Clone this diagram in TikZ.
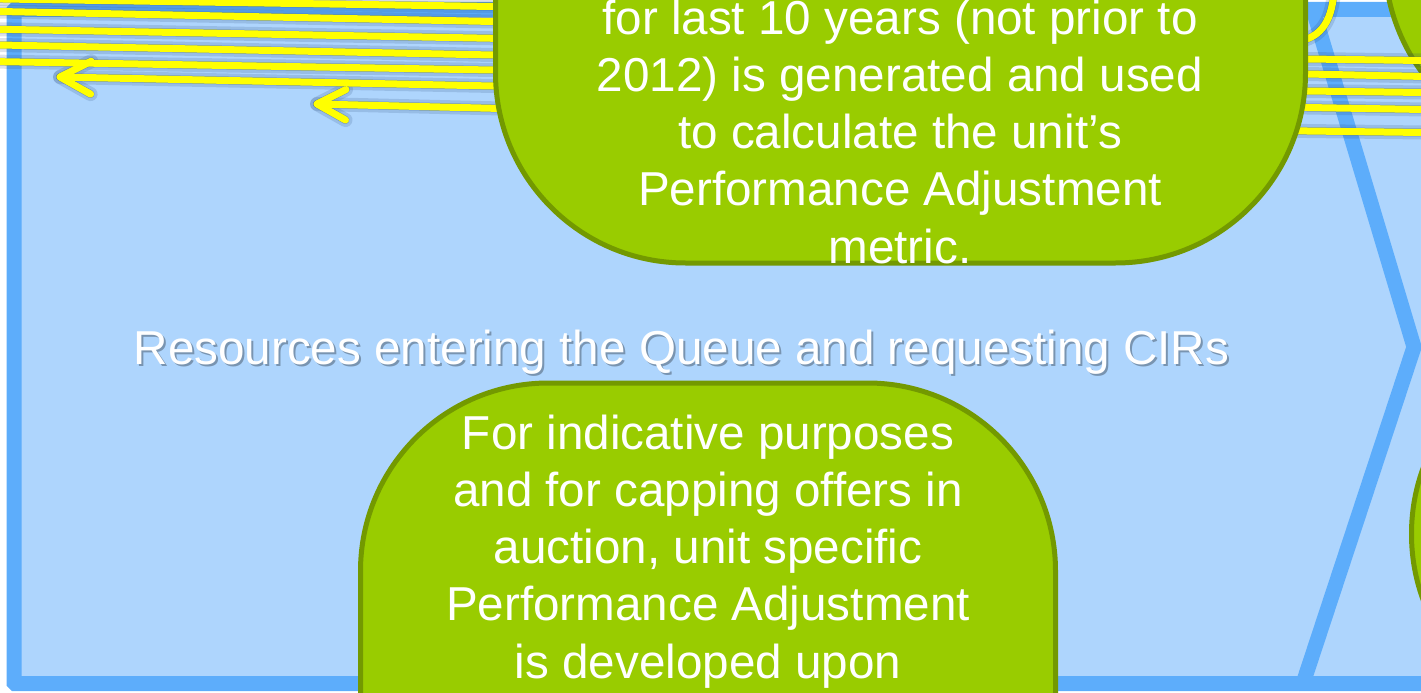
\documentclass[tikz,border=0pt]{standalone}
\usepackage{fontspec}
\setmainfont{Liberation Sans}
\definecolor{panelfill}{HTML}{AED5FD}
\definecolor{panelline}{HTML}{5DADFB}
\definecolor{gfill}{HTML}{99CC00}
\definecolor{gline}{HTML}{739900}
\definecolor{ylw}{HTML}{FFFF00}
\definecolor{shd}{RGB}{35,65,115}
\tikzset{
  panel/.style={fill=panelfill, draw=panelline, line width=15pt, rounded corners=1pt},
  chev/.style={draw=panelline, line width=15pt},
  gshape/.style={draw=gline, fill=gfill, line width=5pt, inner sep=0pt},
  txt/.style={text=white, font=\fontsize{47.6}{57.2}\selectfont, align=center, inner sep=0pt},
  yl/.style={draw=ylw, line width=7pt, line cap=round, line join=round},
  ysa/.style={draw=shd, line width=14pt, opacity=0.16, line cap=round, line join=round},
  ysb/.style={draw=shd, line width=8pt, opacity=0.36, line cap=round, line join=round},
}
\newcommand\yellowpaths[1]{%
  \draw[#1] (a0) -- (a1) -- (a2);
  \draw[#1] (b0) -- (b1) -- (b2) .. controls (b2c1) and (b2c2) .. (b3);
  \draw[#1] (c0) -- (c1) -- (c2) -- (c3);
  \draw[#1] (d0) -- (d1) -- (d2) -- (d3);
  \draw[#1] (e0) -- (e1) -- (e2) -- (e3);
  \draw[#1] (f3) -- (f2) -- (f1) -- (ftip);
  \draw[#1] (fwa) -- (ftip) -- (fwb);
  \draw[#1] (g3) -- (g2) -- (g1) -- (gtip);
  \draw[#1] (gwa) -- (gtip) -- (gwb);
}
\begin{document}
\begin{tikzpicture}[x=1pt,y=-1pt]
\useasboundingbox (0,0) rectangle (1421,693);
\clip (0,0) rectangle (1421,693);

% blue panel
\path[panel] (14,9.5) rectangle (1480,683.5);
\draw[chev] (1313,9.5) -- (1414,347) -- (1303,683.5);

% right-hand green shapes (partly visible)
\node[gshape, rounded corners=195pt, minimum width=700pt, minimum height=700pt, anchor=south west] (rtop) at (1382,155) {};
\node[gshape, rounded corners=189pt, minimum width=600pt, minimum height=379pt, anchor=north west] (rbot) at (1409,342) {};

% yellow connector coordinates
\coordinate (a0) at (-10,-1.2); \coordinate (a1) at (493,6.5); \coordinate (a2) at (900,15);
\coordinate (b0) at (-10,11.3); \coordinate (b1) at (493,21.5); \coordinate (b2) at (1290,42);
\coordinate (b2c1) at (1318,41); \coordinate (b2c2) at (1332,25); \coordinate (b3) at (1334,-10);
\coordinate (c0) at (-10,29.1); \coordinate (c1) at (493,38.3); \coordinate (c2) at (1307,59); \coordinate (c3) at (1430,60.6);
\coordinate (d0) at (-10,44.8); \coordinate (d1) at (493,55); \coordinate (d2) at (1307,74); \coordinate (d3) at (1430,76.6);
\coordinate (e0) at (-10,61.5); \coordinate (e1) at (493,70); \coordinate (e2) at (1307,91); \coordinate (e3) at (1430,92.6);
\coordinate (ftip) at (60,77); \coordinate (f1) at (493,86); \coordinate (f2) at (1307,107.5); \coordinate (f3) at (1430,109.6);
\coordinate (fwa) at (90.6,94.1); \coordinate (fwb) at (91.2,61.2);
\coordinate (gtip) at (317,104); \coordinate (g1) at (493,108.3); \coordinate (g2) at (1307,131); \coordinate (g3) at (1430,132.6);
\coordinate (gwa) at (345.5,120); \coordinate (gwb) at (346,89.5);

\begin{scope}[shift={(3,6)}]
  \yellowpaths{ysa}
  \yellowpaths{ysb}
\end{scope}
\yellowpaths{yl}

% central green shapes
\node[gshape, rounded corners=190pt, minimum width=810pt, minimum height=900pt, anchor=south] (upperbox) at (900.5,265.5) {};
\node[gshape, rounded corners=188pt, minimum width=695pt, minimum height=700pt, anchor=north] (lowerbox) at (708,380.5) {};

\node[txt, anchor=north] (uppertext) at (900,-6) {\rule{0pt}{40pt}for last 10 years (not prior to\\2012) is generated and used\\to calculate the unit’s\\Performance Adjustment\\metric.};
\node[txt, anchor=north] (lowertext) at (708,409) {\rule{0pt}{40pt}For indicative purposes\\and for capping offers in\\auction, unit specific\\Performance Adjustment\\is developed upon};

% heading with shadow
\node[txt, anchor=base, text=black, opacity=0.3] (resshadow) at (683.5,366) {Resources entering the Queue and requesting CIRs};
\node[txt, anchor=base] (res) at (681.5,364) {Resources entering the Queue and requesting CIRs};
\end{tikzpicture}
\end{document}
